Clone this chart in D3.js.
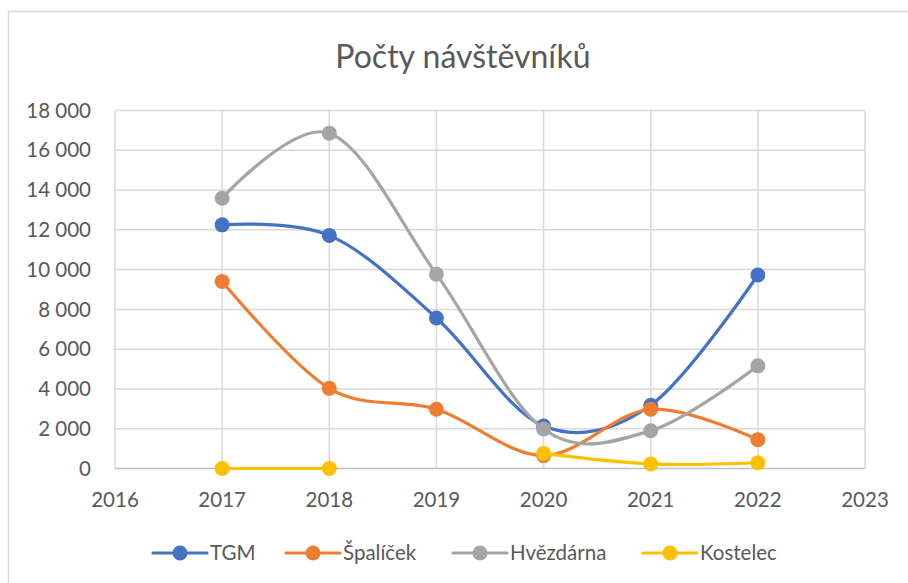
<!DOCTYPE html>
<html>
<head>
<meta charset="utf-8">
<script src="https://cdn.jsdelivr.net/npm/d3@7"></script>
<style>
  body { margin: 0; background: #fff; }
  text { font-family: Lato, "Open Sans", sans-serif; fill: #595959; }
</style>
</head>
<body>
<svg id="chart" width="908" height="583"></svg>
<script>
// data
var years = [2017, 2018, 2019, 2020, 2021, 2022];
var tgm = [12250, 11720, 7570, 2140, 3180, 9730];
var spalicek = [9400, 4030, 2980, 650, 2980, 1450];
var hvezdarna = [13590, 16860, 9770, 1990, 1900, 5160];
var kostelec = [0, 0, null, 760, 230, 290];
var seriesNames = ["TGM", "Špalíček", "Hvězdárna", "Kostelec"];
var seriesColors = ["#4472C4", "#ED7D31", "#A5A5A5", "#FFC000"];
var yTicks = [0, 2000, 4000, 6000, 8000, 10000, 12000, 14000, 16000, 18000];
var xTicks = [2016, 2017, 2018, 2019, 2020, 2021, 2022, 2023];

var svg = d3.select("#chart");
var margin = {left: 115, right: 43, top: 110.5, bottom: 114.5};
var width = 908 - margin.left - margin.right,
    height = 583 - margin.top - margin.bottom;

// outer chart frame
svg.append("rect")
  .attr("x", 8.5).attr("y", 11.5)
  .attr("width", 910).attr("height", 590)
  .attr("fill", "none").attr("stroke", "#d9d9d9").attr("stroke-width", 1.5);

// title
svg.append("text")
  .attr("x", 463).attr("y", 68)
  .attr("text-anchor", "middle")
  .style("font-size", "32px")
  .style("font-weight", 400)
  .text("Počty návštěvníků");

var x = d3.scaleLinear().domain([2016, 2023]).range([0, width]);
var y = d3.scaleLinear().domain([0, 18000]).range([height, 0]);

var g = svg.append("g").attr("transform", "translate(" + margin.left + "," + margin.top + ")");

// gridlines
g.selectAll(".hgrid").data(yTicks.slice(1)).enter().append("line")
  .attr("x1", 0).attr("x2", width)
  .attr("y1", function(d){ return y(d); }).attr("y2", function(d){ return y(d); })
  .attr("stroke", "#d9d9d9").attr("stroke-width", 1.5);
g.selectAll(".vgrid").data(xTicks).enter().append("line")
  .attr("x1", function(d){ return x(d); }).attr("x2", function(d){ return x(d); })
  .attr("y1", 0).attr("y2", height)
  .attr("stroke", "#d9d9d9").attr("stroke-width", 1.5);

// axis baseline
g.append("line")
  .attr("x1", 0).attr("x2", width)
  .attr("y1", height).attr("y2", height)
  .attr("stroke", "#bfbfbf").attr("stroke-width", 1.5);

// y labels
var fmt = function(d){ return d3.format(",")(d).replace(/,/g, " "); };
g.selectAll(".ylab").data(yTicks).enter().append("text")
  .attr("x", -24).attr("y", function(d){ return y(d); })
  .attr("dy", "0.35em")
  .attr("text-anchor", "end")
  .style("font-size", "20.5px")
  .text(fmt);

// x labels
g.selectAll(".xlab").data(xTicks).enter().append("text")
  .attr("x", function(d){ return x(d); }).attr("y", height + 38)
  .attr("text-anchor", "middle")
  .style("font-size", "20.5px")
  .text(function(d){ return d; });

// lines + markers
var allSeries = [tgm, spalicek, hvezdarna, kostelec];
var line = d3.line()
  .defined(function(d){ return d.v != null; })
  .x(function(d){ return x(d.year); })
  .y(function(d){ return y(d.v); })
  .curve(d3.curveCardinal.tension(0));

allSeries.forEach(function(vals, i){
  var pts = years.map(function(yr, j){ return {year: yr, v: vals[j]}; });
  var sg = g.append("g");
  sg.append("path")
    .datum(pts)
    .attr("d", line)
    .attr("fill", "none")
    .attr("stroke", seriesColors[i])
    .attr("stroke-width", 3.2)
    .attr("stroke-linecap", "round");
  sg.selectAll("circle").data(pts.filter(function(d){ return d.v != null; })).enter().append("circle")
    .attr("cx", function(d){ return x(d.year); })
    .attr("cy", function(d){ return y(d.v); })
    .attr("r", 7.5)
    .attr("fill", seriesColors[i]);
});

// legend
var legendX = [153, 286, 453, 643];
var leg = svg.append("g").attr("transform", "translate(0,553)");
seriesNames.forEach(function(name, i){
  var lg = leg.append("g").attr("transform", "translate(" + legendX[i] + ",0)");
  lg.append("line").attr("x1", 0).attr("x2", 54).attr("y1", 0).attr("y2", 0)
    .attr("stroke", seriesColors[i]).attr("stroke-width", 3.2).attr("stroke-linecap", "round");
  lg.append("circle").attr("cx", 27).attr("cy", 0).attr("r", 7.5).attr("fill", seriesColors[i]);
  lg.append("text").attr("x", 57).attr("y", 0).attr("dy", "0.35em")
    .style("font-size", "20.5px").text(name);
});
</script>
</body>
</html>
